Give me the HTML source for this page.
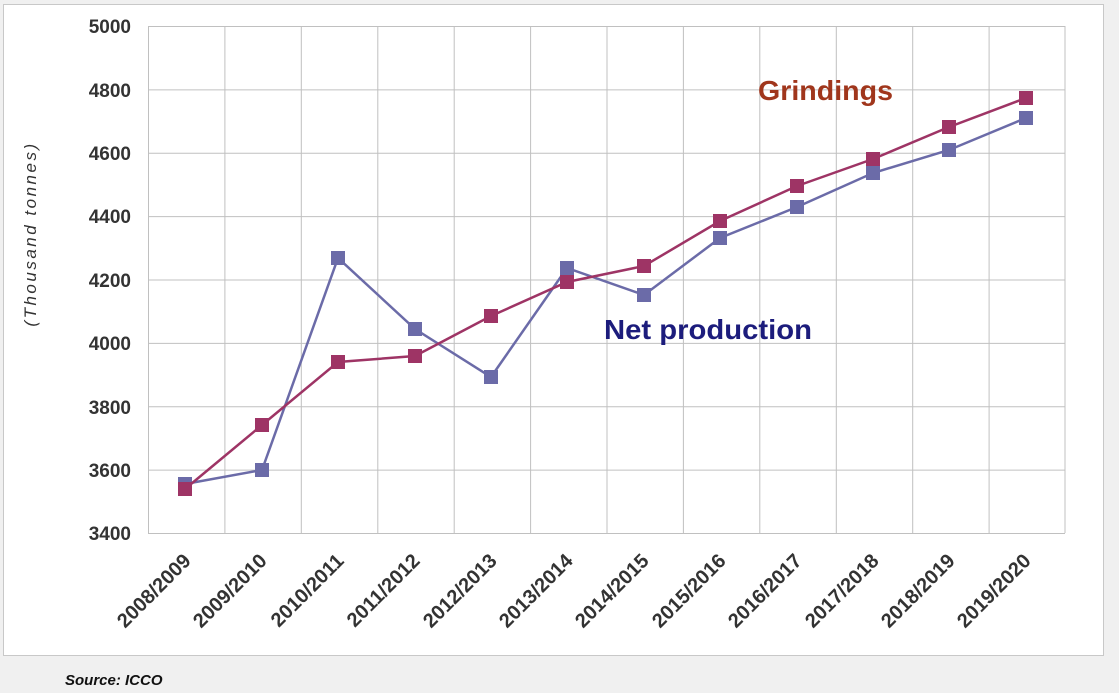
<!DOCTYPE html>
<html><head><style>
body{margin:0;background:#f0f0f0;}
</style></head><body>
<svg width="1119" height="693" xmlns="http://www.w3.org/2000/svg" style="display:block;font-family:'Liberation Sans',sans-serif">
<rect x="0" y="0" width="1119" height="693" fill="#f0f0f0"/>
<rect x="3.5" y="4.5" width="1100" height="651" fill="#fff" stroke="#c8c8c8"/>
<g stroke="#c0c0c0" stroke-width="1">
<line x1="148" y1="26.5" x2="1065" y2="26.5"/>
<line x1="148" y1="89.9" x2="1065" y2="89.9"/>
<line x1="148" y1="153.3" x2="1065" y2="153.3"/>
<line x1="148" y1="216.6" x2="1065" y2="216.6"/>
<line x1="148" y1="280" x2="1065" y2="280"/>
<line x1="148" y1="343.4" x2="1065" y2="343.4"/>
<line x1="148" y1="406.8" x2="1065" y2="406.8"/>
<line x1="148" y1="470.1" x2="1065" y2="470.1"/>
<line x1="148" y1="533.5" x2="1065" y2="533.5"/>
<line x1="148.5" y1="26" x2="148.5" y2="533"/><line x1="224.9" y1="26" x2="224.9" y2="533"/><line x1="301.3" y1="26" x2="301.3" y2="533"/><line x1="377.8" y1="26" x2="377.8" y2="533"/><line x1="454.2" y1="26" x2="454.2" y2="533"/><line x1="530.6" y1="26" x2="530.6" y2="533"/><line x1="607" y1="26" x2="607" y2="533"/><line x1="683.4" y1="26" x2="683.4" y2="533"/><line x1="759.8" y1="26" x2="759.8" y2="533"/><line x1="836.3" y1="26" x2="836.3" y2="533"/><line x1="912.7" y1="26" x2="912.7" y2="533"/><line x1="989.1" y1="26" x2="989.1" y2="533"/><line x1="1065" y1="26" x2="1065" y2="533"/>
</g>
<g font-size="19" font-weight="bold" fill="#333" text-anchor="end">
<text x="131" y="33">5000</text><text x="131" y="97">4800</text><text x="131" y="160">4600</text><text x="131" y="223">4400</text><text x="131" y="287">4200</text><text x="131" y="350">4000</text><text x="131" y="414">3800</text><text x="131" y="477">3600</text><text x="131" y="540">3400</text>
</g>
<text transform="translate(36,234) rotate(-90)" text-anchor="middle" font-size="17" font-style="italic" fill="#333" letter-spacing="2.5">(Thousand  tonnes)</text>
<g font-size="20" font-weight="bold" fill="#333" text-anchor="end">
<text transform="translate(192,562) rotate(-45)">2008/2009</text>
<text transform="translate(268,562) rotate(-45)">2009/2010</text>
<text transform="translate(345,562) rotate(-45)">2010/2011</text>
<text transform="translate(421,562) rotate(-45)">2011/2012</text>
<text transform="translate(498,562) rotate(-45)">2012/2013</text>
<text transform="translate(574,562) rotate(-45)">2013/2014</text>
<text transform="translate(650,562) rotate(-45)">2014/2015</text>
<text transform="translate(727,562) rotate(-45)">2015/2016</text>
<text transform="translate(803,562) rotate(-45)">2016/2017</text>
<text transform="translate(880,562) rotate(-45)">2017/2018</text>
<text transform="translate(956,562) rotate(-45)">2018/2019</text>
<text transform="translate(1032,562) rotate(-45)">2019/2020</text>
</g>
<polyline fill="none" stroke="#6b6ba8" stroke-width="2.5" points="185,484 262,470 338,258 415,329 491,377 567,268 644,295 720,238 797,207 873,173 949,150 1026,118"/>
<g fill="#6b6ba8">
<rect x="178" y="477" width="14" height="14"/><rect x="255" y="463" width="14" height="14"/><rect x="331" y="251" width="14" height="14"/><rect x="408" y="322" width="14" height="14"/><rect x="484" y="370" width="14" height="14"/><rect x="560" y="261" width="14" height="14"/><rect x="637" y="288" width="14" height="14"/><rect x="713" y="231" width="14" height="14"/><rect x="790" y="200" width="14" height="14"/><rect x="866" y="166" width="14" height="14"/><rect x="942" y="143" width="14" height="14"/><rect x="1019" y="111" width="14" height="14"/>
</g>
<polyline fill="none" stroke="#9e3465" stroke-width="2.5" points="185,489 262,425 338,362 415,356 491,316 567,282 644,266 720,221 797,186 873,159 949,127 1026,98"/>
<g fill="#9e3465">
<rect x="178" y="482" width="14" height="14"/><rect x="255" y="418" width="14" height="14"/><rect x="331" y="355" width="14" height="14"/><rect x="408" y="349" width="14" height="14"/><rect x="484" y="309" width="14" height="14"/><rect x="560" y="275" width="14" height="14"/><rect x="637" y="259" width="14" height="14"/><rect x="713" y="214" width="14" height="14"/><rect x="790" y="179" width="14" height="14"/><rect x="866" y="152" width="14" height="14"/><rect x="942" y="120" width="14" height="14"/><rect x="1019" y="91" width="14" height="14"/>
</g>
<text x="758" y="100" font-size="28" font-weight="bold" fill="#a0361c" textLength="135" lengthAdjust="spacingAndGlyphs">Grindings</text>
<text x="604" y="339" font-size="28" font-weight="bold" fill="#1c1c7c" textLength="208" lengthAdjust="spacingAndGlyphs">Net production</text>
<text x="65" y="685" font-size="15" font-weight="bold" font-style="italic" fill="#111">Source: ICCO</text>
</svg>
</body></html>
